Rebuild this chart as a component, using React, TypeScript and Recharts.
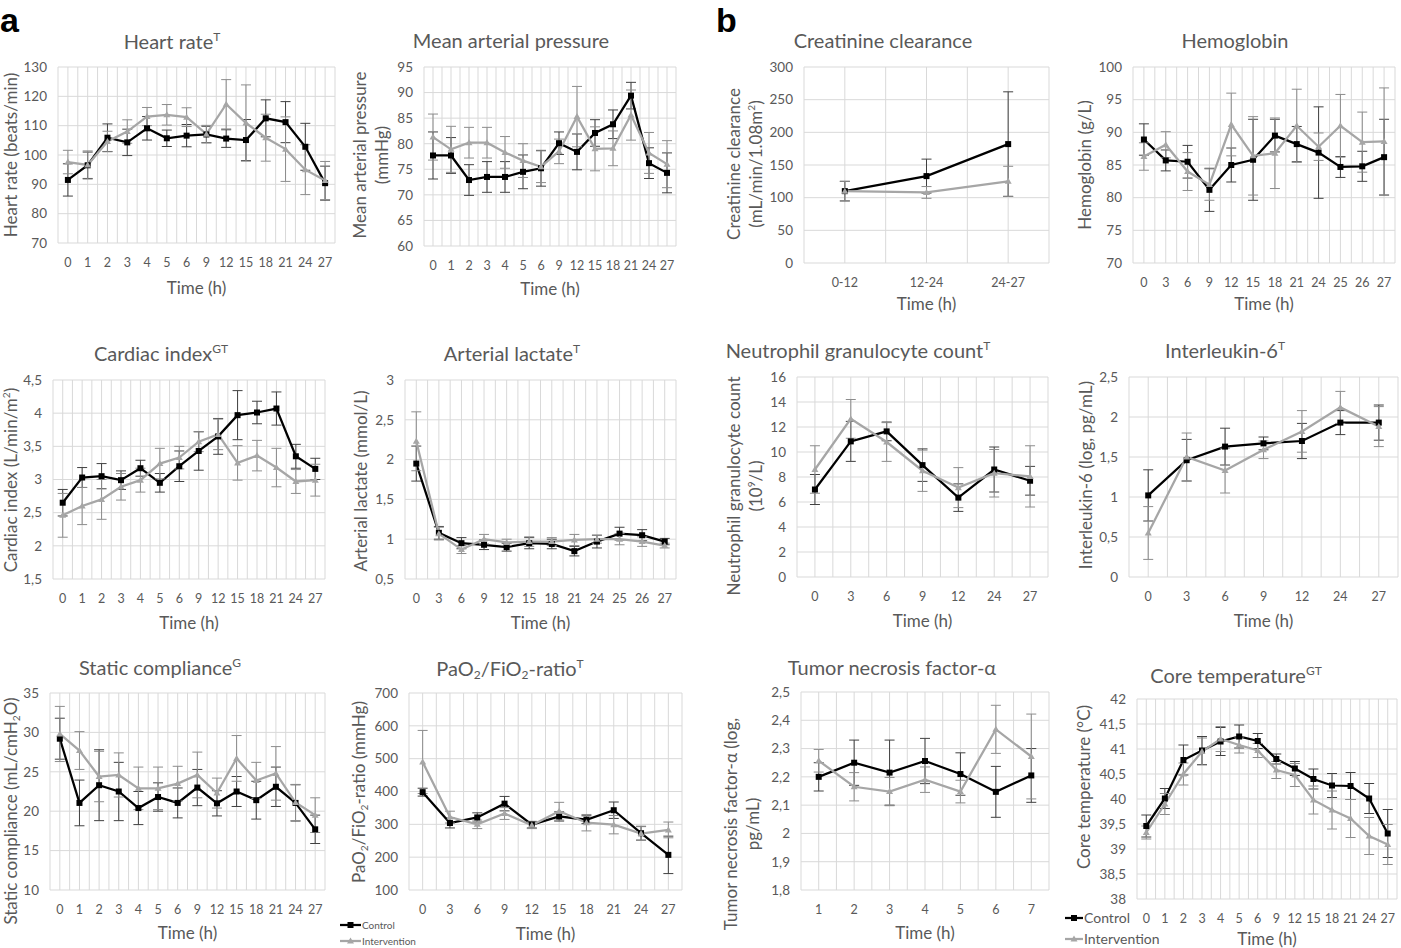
import React from 'react';
import { LineChart, Line, XAxis, YAxis, CartesianGrid, ErrorBar } from 'recharts';

const FONT = 'Lato, "Open Sans", "DejaVu Sans", sans-serif';
const TXT = '#595959';
const GRID = '#d9d9d9';
const CTRL = '#000000';
const INTV = '#a6a6a6';
const CTRL_ERR = '#404040';
const INTV_ERR = '#8c8c8c';

// ---------- data ----------
const hourCats14 = ['0', '1', '2', '3', '4', '5', '6', '9', '12', '15', '18', '21', '24', '27'];
const hourCats12 = ['0', '3', '6', '9', '12', '15', '18', '21', '24', '25', '26', '27'];
const hourCats7 = ['0', '3', '6', '9', '12', '24', '27'];
const hourCats10 = ['0', '3', '6', '9', '12', '15', '18', '21', '24', '27'];
const creatCats = ['0-12', '12-24', '24-27'];
const tnfCats = ['1', '2', '3', '4', '5', '6', '7'];

const hrTicks = [70, 80, 90, 100, 110, 120, 130];
const hrCtrl = [91.5, 96.5, 105.9, 104.3, 109.1, 105.7, 106.6, 107, 105.6, 105.1, 112.5, 111.2, 102.8, 90.4];
const hrCtrlSd = [5.5, 4.5, 4.7, 4.5, 4, 2.8, 3.8, 2.8, 3, 7, 6.3, 7, 8, 5.8];
const hrInt = [97.6, 96.6, 104.6, 108, 113.1, 113.7, 112.9, 107.1, 117.3, 110.9, 105.9, 102, 95, 91.3];
const hrIntSd = [4, 4.8, 3.5, 4, 3.1, 3.5, 3.2, 3, 8.4, 13, 8, 11, 8.5, 6.5];

const mapTicks = [60, 65, 70, 75, 80, 85, 90, 95];
const mapCtrl = [77.7, 77.7, 72.9, 73.5, 73.5, 74.5, 75.2, 80.1, 78.4, 82.1, 83.8, 89.4, 76.2, 74.3];
const mapCtrlSd = [4.6, 3.5, 3.0, 3.0, 3.0, 3.3, 3.5, 2.2, 3.5, 2.6, 2.8, 2.6, 3.0, 3.9];
const mapInt = [81.3, 78.9, 80.2, 80.2, 78.3, 76.7, 75.5, 78.5, 85.3, 79.0, 79.1, 85.6, 78.2, 76.0];
const mapIntSd = [4.5, 4.5, 3.0, 3.0, 3.1, 3.3, 3.1, 2.4, 5.9, 4.3, 3.4, 4.9, 4.0, 4.6];

const creatTicks = [0, 50, 100, 150, 200, 250, 300];
const creatCtrl = [110, 133, 182];
const creatCtrlSd = [15, 26, 80];
const creatInt = [110, 108, 125];
const creatIntSd = [15, 9, 23];

const hbTicks = [70, 75, 80, 85, 90, 95, 100];
const hbCtrl = [88.9, 85.7, 85.5, 81.2, 85.0, 85.8, 89.5, 88.2, 86.9, 84.7, 84.8, 86.2];
const hbCtrlSd = [2.4, 1.6, 2.5, 3.3, 2.6, 6.2, 2.5, 2.7, 7.0, 1.6, 2.3, 5.8];
const hbInt = [86.3, 88.1, 84.0, 82.0, 91.2, 86.4, 86.8, 91.0, 87.8, 91.0, 88.5, 88.6];
const hbIntSd = [2.1, 2.0, 2.9, 2.4, 4.8, 6.0, 5.4, 5.6, 2.1, 4.8, 4.6, 8.2];

const ciTicks = [1.5, 2, 2.5, 3, 3.5, 4, 4.5];
const ciCtrl = [2.65, 3.03, 3.05, 2.99, 3.17, 2.95, 3.2, 3.43, 3.65, 3.97, 4.01, 4.07, 3.35, 3.16];
const ciCtrlSd = [0.2, 0.15, 0.19, 0.14, 0.12, 0.14, 0.23, 0.29, 0.27, 0.37, 0.17, 0.25, 0.18, 0.16];
const ciInt = [2.46, 2.6, 2.7, 2.89, 2.99, 3.24, 3.33, 3.57, 3.68, 3.25, 3.36, 3.18, 2.97, 2.99];
const ciIntSd = [0.33, 0.28, 0.3, 0.2, 0.18, 0.23, 0.17, 0.15, 0.23, 0.26, 0.23, 0.29, 0.18, 0.24];

const lacTicks = [0.5, 1, 1.5, 2, 2.5, 3];
const lacCtrl = [1.95, 1.08, 0.95, 0.93, 0.9, 0.95, 0.94, 0.85, 0.97, 1.07, 1.05, 0.97];
const lacCtrlSd = [0.22, 0.08, 0.07, 0.06, 0.05, 0.07, 0.06, 0.06, 0.08, 0.08, 0.07, 0.04];
const lacInt = [2.23, 1.07, 0.87, 1.0, 0.96, 0.97, 0.97, 0.99, 1.0, 1.0, 0.97, 0.92];
const lacIntSd = [0.37, 0.08, 0.05, 0.06, 0.04, 0.06, 0.05, 0.07, 0.05, 0.07, 0.06, 0.03];

const neuTicks = [0, 2, 4, 6, 8, 10, 12, 14, 16];
const neuCtrl = [7.0, 10.85, 11.65, 8.95, 6.35, 8.6, 7.7];
const neuCtrlSd = [1.2, 1.6, 0.75, 1.3, 1.1, 1.8, 1.15];
const neuInt = [8.6, 12.65, 10.8, 8.5, 7.15, 8.3, 8.05];
const neuIntSd = [1.9, 1.55, 1.55, 1.65, 1.6, 1.9, 2.45];

const il6Ticks = [0, 0.5, 1, 1.5, 2, 2.5];
const il6Ctrl = [1.02, 1.46, 1.63, 1.67, 1.7, 1.93, 1.93];
const il6CtrlSd = [0.32, 0.26, 0.23, 0.08, 0.22, 0.15, 0.22];
const il6Int = [0.55, 1.5, 1.33, 1.59, 1.82, 2.12, 1.88];
const il6IntSd = [0.33, 0.3, 0.28, 0.11, 0.26, 0.2, 0.25];

const scTicks = [10, 15, 20, 25, 30, 35];
const scCtrl = [29.2, 21.05, 23.3, 22.5, 20.4, 21.8, 21.05, 23.0, 21.0, 22.5, 21.4, 23.1, 21.05, 17.7];
const scCtrlSd = [2.6, 2.9, 4.5, 3.7, 2.1, 1.8, 1.9, 2.3, 1.6, 1.9, 2.4, 2.5, 2.3, 1.8];
const scInt = [29.8, 27.7, 24.4, 24.6, 22.9, 22.9, 23.5, 24.6, 22.3, 26.7, 23.9, 24.8, 21.1, 19.5];
const scIntSd = [3.5, 2.4, 3.2, 2.8, 2.7, 2.7, 2.2, 2.9, 1.9, 2.9, 2.3, 3.4, 2.3, 2.2];

const pfTicks = [100, 200, 300, 400, 500, 600, 700];
const pfCtrl = [398, 304, 321, 363, 299, 324, 314, 343, 273, 207];
const pfCtrlSd = [12, 15, 14, 22, 10, 14, 12, 25, 21, 57];
const pfInt = [490, 322, 300, 333, 297, 340, 305, 299, 272, 283];
const pfIntSd = [96, 18, 13, 18, 10, 27, 25, 28, 21, 24];

const tnfTicks = [1.8, 1.9, 2, 2.1, 2.2, 2.3, 2.4, 2.5];
const tnfCtrl = [2.2, 2.25, 2.215, 2.256, 2.21, 2.147, 2.205];
const tnfCtrlSd = [0.05, 0.08, 0.115, 0.08, 0.075, 0.09, 0.095];
const tnfInt = [2.257, 2.165, 2.148, 2.19, 2.148, 2.368, 2.272];
const tnfIntSd = [0.04, 0.05, 0.05, 0.045, 0.04, 0.085, 0.15];

const tempTicks = [38, 38.5, 39, 39.5, 40, 40.5, 41, 41.5, 42];
const tempCtrl = [39.46, 40.01, 40.78, 40.97, 41.15, 41.25, 41.16, 40.8, 40.61, 40.4, 40.27, 40.26, 40.01, 39.31];
const tempCtrlSd = [0.22, 0.2, 0.3, 0.28, 0.28, 0.23, 0.15, 0.1, 0.14, 0.2, 0.24, 0.27, 0.3, 0.48];
const tempInt = [39.33, 39.9, 40.5, 40.95, 41.2, 41.08, 40.97, 40.58, 40.48, 39.98, 39.78, 39.61, 39.26, 39.09];
const tempIntSd = [0.13, 0.21, 0.22, 0.27, 0.25, 0.16, 0.14, 0.17, 0.23, 0.28, 0.38, 0.38, 0.37, 0.4];

// ---------- helpers ----------
const fmt = (v: number) => String(v).replace('.', ',');

const squareDot = (p: any) => {
  const { cx, cy, index } = p;
  if (cx == null || cy == null) return <g key={`s${index}`} />;
  return <rect key={`s${index}`} x={cx - 3} y={cy - 3} width={6} height={6} fill={CTRL} />;
};
const triDot = (p: any) => {
  const { cx, cy, index } = p;
  if (cx == null || cy == null) return <g key={`t${index}`} />;
  return (
    <polygon
      key={`t${index}`}
      points={`${cx},${cy - 3.5} ${cx + 3.5},${cy + 2.5} ${cx - 3.5},${cy + 2.5}`}
      fill={INTV}
    />
  );
};

type PanelProps = {
  cats: string[];
  ctrl: number[];
  ctrlSd: number[];
  intv: number[];
  intvSd: number[];
  yTicks: number[];
  x: number;
  y: number;
  w: number;
  h: number;
  title: React.ReactNode;
  titleX: number;
  titleY: number;
  ylab: React.ReactNode[];
  ylabX: number;
  ylabY: number;
  timeY: number;
};

function Panel(props: PanelProps) {
  const { cats, ctrl, ctrlSd, intv, intvSd, yTicks, x, y, w, h } = props;
  const n = cats.length;
  const data = cats.map((c, i) => ({ xi: i, ctrl: ctrl[i], ctrlErr: ctrlSd[i], intv: intv[i], intvErr: intvSd[i] }));
  const xTicks: number[] = [];
  for (let k = 0; k <= 2 * n; k++) xTicks.push(-0.5 + k * 0.5);
  const ML = 60;
  const MT = 10;
  const MR = 4;
  const MB = 40;
  return (
    <>
      <div style={{ position: 'absolute', left: x - ML, top: y - MT }}>
        <LineChart width={w + ML + MR} height={h + MT + MB} data={data} margin={{ top: MT, right: MR, bottom: 0, left: 0 }}>
          <CartesianGrid stroke={GRID} strokeWidth={1} />
          <XAxis
            dataKey="xi"
            type="number"
            domain={[-0.5, n - 0.5]}
            allowDataOverflow
            ticks={xTicks}
            interval={0}
            tickFormatter={(v: number) => (Number.isInteger(v) ? cats[v] : '')}
            axisLine={false}
            tickLine={false}
            tickSize={0}
            tickMargin={15}
            height={MB}
            tick={{ fill: TXT, fontSize: 12.5, fontFamily: FONT }}
          />
          <YAxis
            type="number"
            domain={[yTicks[0], yTicks[yTicks.length - 1]]}
            allowDataOverflow
            ticks={yTicks}
            interval={0}
            width={ML}
            axisLine={false}
            tickLine={false}
            tickSize={0}
            tickMargin={11}
            tickFormatter={fmt}
            tick={{ fill: TXT, fontSize: 13.5, fontFamily: FONT }}
          />
          <Line
            dataKey="ctrl"
            type="linear"
            stroke={CTRL}
            strokeWidth={2.25}
            dot={squareDot}
            activeDot={false}
            isAnimationActive={false}
          >
            <ErrorBar dataKey="ctrlErr" direction="y" width={5} strokeWidth={1} stroke={CTRL_ERR} />
          </Line>
          <Line
            dataKey="intv"
            type="linear"
            stroke={INTV}
            strokeWidth={2.25}
            dot={triDot}
            activeDot={false}
            isAnimationActive={false}
          >
            <ErrorBar dataKey="intvErr" direction="y" width={5} strokeWidth={1} stroke={INTV_ERR} />
          </Line>
        </LineChart>
      </div>
      <div
        style={{
          position: 'absolute',
          left: props.titleX,
          top: props.titleY,
          transform: 'translate(-50%, -50%)',
          whiteSpace: 'nowrap',
          fontFamily: FONT,
          fontSize: 20,
          color: TXT,
        }}
      >
        {props.title}
      </div>
      <div
        style={{
          position: 'absolute',
          left: props.ylabX,
          top: props.ylabY,
          transform: 'translate(-50%, -50%) rotate(-90deg)',
          whiteSpace: 'nowrap',
          fontFamily: FONT,
          fontSize: 17,
          lineHeight: '22px',
          color: TXT,
          textAlign: 'center',
        }}
      >
        {props.ylab.map((l, i) => (
          <div key={i} style={{ height: props.ylab.length > 1 ? 22 : 18, lineHeight: props.ylab.length > 1 ? '22px' : '18px' }}>{l}</div>
        ))}
      </div>
      <div
        style={{
          position: 'absolute',
          left: x + w / 2,
          top: props.timeY,
          transform: 'translate(-50%, -50%)',
          whiteSpace: 'nowrap',
          fontFamily: FONT,
          fontSize: 17,
          color: TXT,
        }}
      >
        Time (h)
      </div>
    </>
  );
}

function LegendItem({ x, y, kind, label, fontSize, lineLen }: { x: number; y: number; kind: 'c' | 'i'; label: string; fontSize: number; lineLen: number }) {
  const color = kind === 'c' ? CTRL : INTV;
  const m = lineLen / 2;
  const boxH = fontSize + 4;
  return (
    <div style={{ position: 'absolute', left: x, top: y - boxH / 2, height: boxH, display: 'flex', alignItems: 'center', whiteSpace: 'nowrap' }}>
      <svg width={lineLen} height={10} style={{ display: 'block' }}>
        <line x1={0} y1={5} x2={lineLen} y2={5} stroke={color} strokeWidth={2.25} />
        {kind === 'c' ? (
          <rect x={m - 3} y={2} width={6} height={6} fill={color} />
        ) : (
          <polygon points={`${m},1.5 ${m + 3.5},7.5 ${m - 3.5},7.5`} fill={color} />
        )}
      </svg>
      <span style={{ fontFamily: FONT, fontSize, lineHeight: `${boxH}px`, color: TXT, marginLeft: 1 }}>{label}</span>
    </div>
  );
}

const sup = (s: string) => <sup style={{ fontSize: '0.6em', verticalAlign: '0.7em', lineHeight: 0 }}>{s}</sup>;
const sub = (s: string) => <sub style={{ fontSize: '0.6em', verticalAlign: '-0.25em', lineHeight: 0 }}>{s}</sub>;

export default function App() {
  return (
    <div style={{ position: 'absolute', left: 0, top: 0, width: 1401, height: 948, background: '#fff', overflow: 'hidden' }}>
      <div style={{ position: 'absolute', left: 0, top: 0, lineHeight: '40px', fontFamily: 'Arial, "Liberation Sans", sans-serif', fontWeight: 'bold', fontSize: 34, color: '#000' }}>a</div>
      <div style={{ position: 'absolute', left: 716, top: 0, lineHeight: '40px', fontFamily: 'Arial, "Liberation Sans", sans-serif', fontWeight: 'bold', fontSize: 34, color: '#000' }}>b</div>

      <Panel
        cats={hourCats14} ctrl={hrCtrl} ctrlSd={hrCtrlSd} intv={hrInt} intvSd={hrIntSd} yTicks={hrTicks}
        x={58} y={67} w={277} h={176}
        title={<>Heart rate{sup('T')}</>} titleX={172} titleY={41}
        ylab={['Heart rate (beats/min)']} ylabX={11} ylabY={155} timeY={287}
      />
      <Panel
        cats={hourCats14} ctrl={mapCtrl} ctrlSd={mapCtrlSd} intv={mapInt} intvSd={mapIntSd} yTicks={mapTicks}
        x={424} y={67} w={252} h={179}
        title={<>Mean arterial pressure</>} titleX={511} titleY={40}
        ylab={['Mean arterial pressure', '(mmHg)']} ylabX={371} ylabY={155} timeY={288}
      />
      <Panel
        cats={creatCats} ctrl={creatCtrl} ctrlSd={creatCtrlSd} intv={creatInt} intvSd={creatIntSd} yTicks={creatTicks}
        x={804} y={67} w={245} h={196}
        title={<>Creatinine clearance</>} titleX={883} titleY={40}
        ylab={['Creatinine clearance', <>(mL/min/1.08m{sup('2')})</>]} ylabX={745} ylabY={164} timeY={303}
      />
      <Panel
        cats={hourCats12} ctrl={hbCtrl} ctrlSd={hbCtrlSd} intv={hbInt} intvSd={hbIntSd} yTicks={hbTicks}
        x={1133} y={67} w={262} h={196}
        title={<>Hemoglobin</>} titleX={1235} titleY={40}
        ylab={['Hemoglobin (g/L)']} ylabX={1085} ylabY={165} timeY={303}
      />

      <Panel
        cats={hourCats14} ctrl={ciCtrl} ctrlSd={ciCtrlSd} intv={ciInt} intvSd={ciIntSd} yTicks={ciTicks}
        x={53} y={380} w={272} h={199}
        title={<>Cardiac index{sup('GT')}</>} titleX={161} titleY={353}
        ylab={[<>Cardiac index (L/min/m{sup('2')})</>]} ylabX={11} ylabY={480} timeY={622}
      />
      <Panel
        cats={hourCats12} ctrl={lacCtrl} ctrlSd={lacCtrlSd} intv={lacInt} intvSd={lacIntSd} yTicks={lacTicks}
        x={405} y={380} w={271} h={199}
        title={<>Arterial lactate{sup('T')}</>} titleX={512} titleY={353}
        ylab={['Arterial lactate (mmol/L)']} ylabX={361} ylabY={481} timeY={622}
      />
      <Panel
        cats={hourCats7} ctrl={neuCtrl} ctrlSd={neuCtrlSd} intv={neuInt} intvSd={neuIntSd} yTicks={neuTicks}
        x={797} y={377} w={251} h={200}
        title={<>Neutrophil granulocyte count{sup('T')}</>} titleX={858} titleY={350}
        ylab={['Neutrophil granulocyte count', <>(10{sup('9')}/L)</>]} ylabX={745} ylabY={486} timeY={620}
      />
      <Panel
        cats={hourCats7} ctrl={il6Ctrl} ctrlSd={il6CtrlSd} intv={il6Int} intvSd={il6IntSd} yTicks={il6Ticks}
        x={1129} y={377} w={269} h={200}
        title={<>Interleukin-6{sup('T')}</>} titleX={1225} titleY={350}
        ylab={['Interleukin-6 (log, pg/mL)']} ylabX={1086} ylabY={475} timeY={620}
      />

      <Panel
        cats={hourCats14} ctrl={scCtrl} ctrlSd={scCtrlSd} intv={scInt} intvSd={scIntSd} yTicks={scTicks}
        x={50} y={693} w={275} h={197}
        title={<>Static compliance{sup('G')}</>} titleX={160} titleY={667}
        ylab={[<>Static compliance (mL/cmH{sub('2')}O)</>]} ylabX={11} ylabY={811} timeY={932}
      />
      <Panel
        cats={hourCats10} ctrl={pfCtrl} ctrlSd={pfCtrlSd} intv={pfInt} intvSd={pfIntSd} yTicks={pfTicks}
        x={409} y={693} w={273} h={197}
        title={<>PaO{sub('2')}/FiO{sub('2')}-ratio{sup('T')}</>} titleX={510} titleY={668}
        ylab={[<>PaO{sub('2')}/FiO{sub('2')}-ratio (mmHg)</>]} ylabX={359} ylabY={792} timeY={933}
      />
      <Panel
        cats={tnfCats} ctrl={tnfCtrl} ctrlSd={tnfCtrlSd} intv={tnfInt} intvSd={tnfIntSd} yTicks={tnfTicks}
        x={801} y={692} w={248} h={198}
        title={<>Tumor necrosis factor-α</>} titleX={892} titleY={667}
        ylab={['Tumor necrosis factor-α (log,', 'pg/mL)']} ylabX={742} ylabY={824} timeY={932}
      />
      <Panel
        cats={hourCats14} ctrl={tempCtrl} ctrlSd={tempCtrlSd} intv={tempInt} intvSd={tempIntSd} yTicks={tempTicks}
        x={1137} y={699} w={260} h={200}
        title={<>Core temperature{sup('GT')}</>} titleX={1236} titleY={675}
        ylab={['Core temperature (°C)']} ylabX={1084} ylabY={787} timeY={938}
      />

      <LegendItem x={340} y={925} kind="c" label="Control" fontSize={10} lineLen={21} />
      <LegendItem x={340} y={941} kind="i" label="Intervention" fontSize={10} lineLen={21} />
      <LegendItem x={1065} y={918} kind="c" label="Control" fontSize={14} lineLen={18} />
      <LegendItem x={1065} y={939} kind="i" label="Intervention" fontSize={14} lineLen={18} />
    </div>
  );
}
